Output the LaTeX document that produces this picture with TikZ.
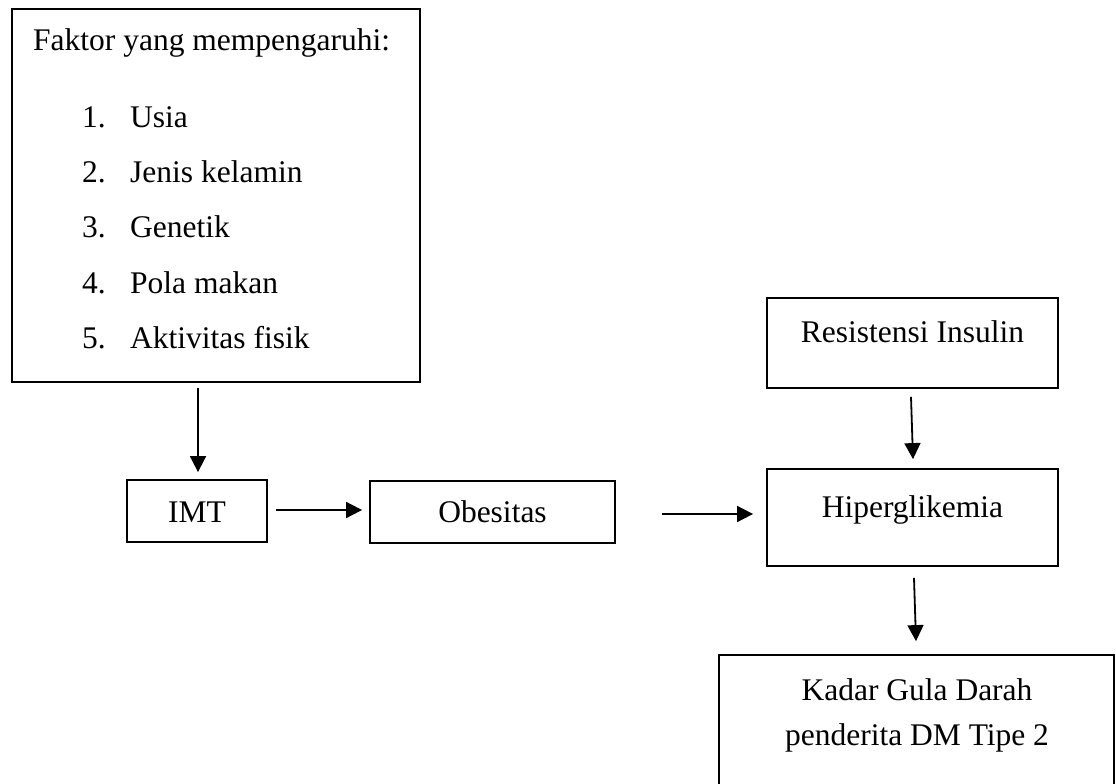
\documentclass[tikz,border=0pt]{standalone}
\usepackage{fontspec}
\setmainfont{Liberation Serif}
\usetikzlibrary{arrows.meta}
\begin{document}
\begin{tikzpicture}[x=1pt,y=-1pt,
  box/.style={draw=black,line width=1.8pt,rectangle,inner sep=0pt},
  txt/.style={inner sep=0pt,anchor=base,font=\fontsize{31.5}{38}\selectfont},
  arr/.style={line width=1.8pt,-{Triangle[width=16pt,length=16pt]}}]
\useasboundingbox (0,0) rectangle (1116,784);
% boxes
\node[box,minimum width=408pt,minimum height=373pt] (fak) at (216,195.5) {};
\node[box,minimum width=140pt,minimum height=62pt] (imt) at (197,511) {};
\node[box,minimum width=245pt,minimum height=62pt] (obe) at (492.5,512) {};
\node[box,minimum width=291pt,minimum height=90pt] (res) at (912.5,343) {};
\node[box,minimum width=291pt,minimum height=97pt] (hip) at (912.5,517.5) {};
\node[box,minimum width=395pt,minimum height=160pt] (kad) at (916.5,735) {};
% texts
\node[txt,anchor=base west] (t0) at (33,51) {Faktor yang mempengaruhi:};
\node[txt,anchor=base west] (n1) at (82,127) {1.};
\node[txt,anchor=base west] (i1) at (130,127) {Usia};
\node[txt,anchor=base west] (n2) at (82,182) {2.};
\node[txt,anchor=base west] (i2) at (130,182) {Jenis kelamin};
\node[txt,anchor=base west] (n3) at (82,237) {3.};
\node[txt,anchor=base west] (i3) at (130,237) {Genetik};
\node[txt,anchor=base west] (n4) at (82,293) {4.};
\node[txt,anchor=base west] (i4) at (130,293) {Pola makan};
\node[txt,anchor=base west] (n5) at (82,348) {5.};
\node[txt,anchor=base west] (i5) at (130,348) {Aktivitas fisik};
\node[txt] (timt) at (197,522) {IMT};
\node[txt] (tobe) at (492.5,522) {Obesitas};
\node[txt] (tres) at (912.5,342) {Resistensi Insulin};
\node[txt] (thip) at (912.5,517) {Hiperglikemia};
\node[txt] (tkad1) at (917,700) {Kadar Gula Darah};
\node[txt] (tkad2) at (917,745) {penderita DM Tipe 2};
% arrows
\draw[arr] ([xshift=-18pt,yshift=-5pt]fak.south) -- ([xshift=1pt,yshift=7pt]imt.north);
\draw[arr] ([xshift=8pt,yshift=1pt]imt.east) -- ([xshift=-7pt,yshift=2pt]obe.west);
\draw[arr] ([xshift=46pt,yshift=-2pt]obe.east) -- ([xshift=-13pt,yshift=3.5pt]hip.west);
\draw[arr] ([xshift=-1.5pt,yshift=-8pt]res.south) -- ([xshift=0.5pt,yshift=9pt]hip.north);
\draw[arr] ([xshift=1.5pt,yshift=-11pt]hip.south) -- ([xshift=-0.5pt,yshift=13pt]kad.north);
\end{tikzpicture}
\end{document}
